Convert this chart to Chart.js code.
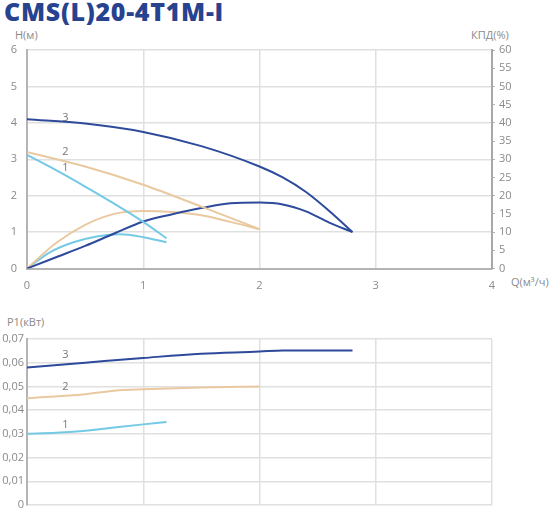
<!DOCTYPE html>
<html>
<head>
<meta charset="utf-8">
<script src="https://cdn.jsdelivr.net/npm/chart.js@4.4.0/dist/chart.umd.min.js"></script>
<style>
  html, body { margin: 0; padding: 0; background: #fff; }
  body { width: 550px; height: 508px; position: relative; overflow: hidden; font-family: "Open Sans", "Noto Sans", sans-serif; }
  #title { position: absolute; left: 4px; top: -6px; font-size: 25px; font-weight: 800; color: #27428f; letter-spacing: 0.7px; white-space: nowrap; }
  .axt { position: absolute; font-size: 11px; color: #8a8a8a; white-space: nowrap; }
  #c1 { position: absolute; left: 0; top: 0; }
  #c2 { position: absolute; left: 0; top: 300px; }
</style>
</head>
<body>
<div id="title">CMS(L)20-4T1M-I</div>
<div class="axt" style="left:15px; top:27px;">H(м)</div>
<div class="axt" style="left:471px; top:27px;">КПД(%)</div>
<div class="axt" style="left:511px; top:274px;">Q(м³/ч)</div>
<div class="axt" style="left:7px; top:314px;">P1(кВт)</div>
<canvas id="c1" width="550" height="300"></canvas>
<canvas id="c2" width="550" height="208"></canvas>
<script>
// ---- data ----
const curveNames = ["1", "2", "3"];
// Head H(м) vs Q(м³/ч)
const q1H = [0, 0.25, 0.5, 0.75, 1.0, 1.2];
const h1  = [3.12, 2.7, 2.25, 1.78, 1.28, 0.83];
const q2H = [0, 0.5, 1.0, 1.5, 2.0];
const h2  = [3.2, 2.8, 2.3, 1.7, 1.08];
const q3H = [0, 0.5, 1.0, 1.5, 2.0, 2.2, 2.4, 2.6, 2.8];
const h3  = [4.1, 3.98, 3.75, 3.36, 2.8, 2.5, 2.1, 1.58, 1.0];
// Efficiency КПД(%) vs Q
const q1E = [0, 0.2, 0.4, 0.6, 0.8, 1.0, 1.2];
const e1  = [0, 4.5, 7.2, 8.8, 9.4, 8.6, 7.2];
const q2E = [0, 0.25, 0.5, 0.75, 1.0, 1.25, 1.5, 1.75, 2.0];
const e2  = [0, 7, 12, 15, 15.8, 15.5, 14.6, 12.8, 10.8];
const q3E = [0, 0.25, 0.5, 0.75, 1.0, 1.25, 1.5, 1.75, 2.0, 2.2, 2.4, 2.6, 2.8];
const e3  = [0, 3.1, 6.2, 9.6, 12.9, 14.9, 16.6, 17.9, 18.1, 17.6, 15.7, 12.6, 10];
// Power P1(кВт) vs Q
const q1P = [0, 0.25, 0.5, 0.75, 1.0, 1.2];
const p1  = [0.030, 0.0305, 0.0313, 0.0327, 0.034, 0.035];
const q2P = [0, 0.5, 0.75, 1.0, 1.5, 2.0];
const p2  = [0.045, 0.0467, 0.0482, 0.0488, 0.0496, 0.050];
const q3P = [0, 0.5, 1.0, 1.5, 2.0, 2.2, 2.8];
const p3  = [0.058, 0.060, 0.062, 0.0638, 0.0647, 0.0652, 0.0652];
// axis ticks
const qTicks = [0, 1, 2, 3, 4];
const hTicks = [0, 1, 2, 3, 4, 5, 6];
const effTicks = [0, 5, 10, 15, 20, 25, 30, 35, 40, 45, 50, 55, 60];
const pTicks = [0, 0.01, 0.02, 0.03, 0.04, 0.05, 0.06, 0.07];

const C1 = "#74c9e5", C2 = "#e9c9a0", C3 = "#2d4a9b";
const GRID = "#e0e0e0", AXIS = "#b4b4b4", TXT = "#8a8a8a";
const FONT = { family: "'Open Sans', 'Noto Sans', sans-serif", size: 11 };

function pts(xs, ys) { return xs.map((x, i) => ({ x: x, y: ys[i] })); }
function ds(xs, ys, color, axis) {
  return { data: pts(xs, ys), borderColor: color, borderWidth: 2, pointRadius: 0,
           tension: 0.4, cubicInterpolationMode: 'monotone', fill: false, yAxisID: axis };
}

// curve number labels, placed in data units via the chart's scales
const labelPlugin = {
  id: 'curveLabels',
  afterDatasetsDraw(chart, args, opts) {
    const ctx = chart.ctx;
    const xs = chart.scales.x, ys = chart.scales[opts.axis];
    ctx.save();
    ctx.fillStyle = "#777";
    ctx.font = "11px 'Open Sans', 'Noto Sans', sans-serif";
    ctx.textAlign = "center"; ctx.textBaseline = "middle";
    opts.items.forEach(it => ctx.fillText(it.t, xs.getPixelForValue(it.x), ys.getPixelForValue(it.y)));
    ctx.restore();
  }
};

const xScaleBase = {
  type: 'linear', min: 0, max: 4,
  afterBuildTicks: s => { s.ticks = qTicks.map(v => ({ value: v })); },
  grid: { color: GRID, lineWidth: 1.5, drawTicks: false },
};

new Chart(document.getElementById('c1'), {
  type: 'line',
  data: { datasets: [
    ds(q3H, h3, C3, 'y'), ds(q2H, h2, C2, 'y'), ds(q1H, h1, C1, 'y'),
    ds(q3E, e3, C3, 'y1'), ds(q2E, e2, C2, 'y1'), ds(q1E, e1, C1, 'y1'),
  ] },
  options: {
    responsive: false, animation: false, devicePixelRatio: 1,
    layout: { padding: { top: 50, left: 0, right: 0, bottom: 0 } },
    plugins: { legend: { display: false }, tooltip: { enabled: false },
      curveLabels: { axis: 'y', items: [
        { t: curveNames[2], x: 0.33, y: 4.15 },
        { t: curveNames[1], x: 0.33, y: 3.19 },
        { t: curveNames[0], x: 0.33, y: 2.75 } ] } },
    scales: {
      x: Object.assign({}, xScaleBase, {
        ticks: { color: TXT, font: FONT, padding: 11, maxRotation: 0 },
        border: { display: true, color: AXIS, width: 2 },
        afterFit: s => { s.height = 31.5; } }),
      y: { type: 'linear', position: 'left', min: 0, max: 6,
        afterBuildTicks: s => { s.ticks = hTicks.map(v => ({ value: v })); },
        ticks: { color: TXT, font: FONT, padding: 10 },
        grid: { color: GRID, lineWidth: 1.5, drawTicks: false },
        border: { display: true, color: AXIS, width: 2 },
        afterFit: s => { s.width = 27; } },
      y1: { type: 'linear', position: 'right', min: 0, max: 60,
        afterBuildTicks: s => { s.ticks = effTicks.map(v => ({ value: v })); },
        ticks: { color: TXT, font: FONT, padding: 4 },
        grid: { drawOnChartArea: false, drawTicks: true, tickLength: 3, tickColor: AXIS },
        border: { display: true, color: "#a8a8a8", width: 2 },
        afterFit: s => { s.width = 58; } }
    }
  },
  plugins: [labelPlugin]
});

new Chart(document.getElementById('c2'), {
  type: 'line',
  data: { datasets: [ ds(q3P, p3, C3, 'y'), ds(q2P, p2, C2, 'y'), ds(q1P, p1, C1, 'y') ] },
  options: {
    responsive: false, animation: false, devicePixelRatio: 1,
    layout: { padding: { top: 39, left: 0, right: 58, bottom: 3 } },
    plugins: { legend: { display: false }, tooltip: { enabled: false },
      curveLabels: { axis: 'y', items: [
        { t: curveNames[2], x: 0.33, y: 0.0633 },
        { t: curveNames[1], x: 0.33, y: 0.0498 },
        { t: curveNames[0], x: 0.33, y: 0.0338 } ] } },
    scales: {
      x: Object.assign({}, xScaleBase, {
        ticks: { display: false },
        border: { display: false },
        afterFit: s => { s.height = 0; s.paddingLeft = 0; s.paddingRight = 0; } }),
      y: { type: 'linear', position: 'left', min: 0, max: 0.07,
        afterBuildTicks: s => { s.ticks = pTicks.map(v => ({ value: v })); },
        ticks: { color: TXT, font: FONT, padding: 3,
          callback: v => v === 0 ? "0" : v.toFixed(2).replace('.', ',') },
        grid: { color: GRID, lineWidth: 1.5, drawTicks: false },
        border: { display: true, color: AXIS, width: 2 },
        afterFit: s => { s.width = 27; s.paddingTop = 0; s.paddingBottom = 0; } }
    }
  },
  plugins: [labelPlugin]
});
</script>
</body>
</html>
